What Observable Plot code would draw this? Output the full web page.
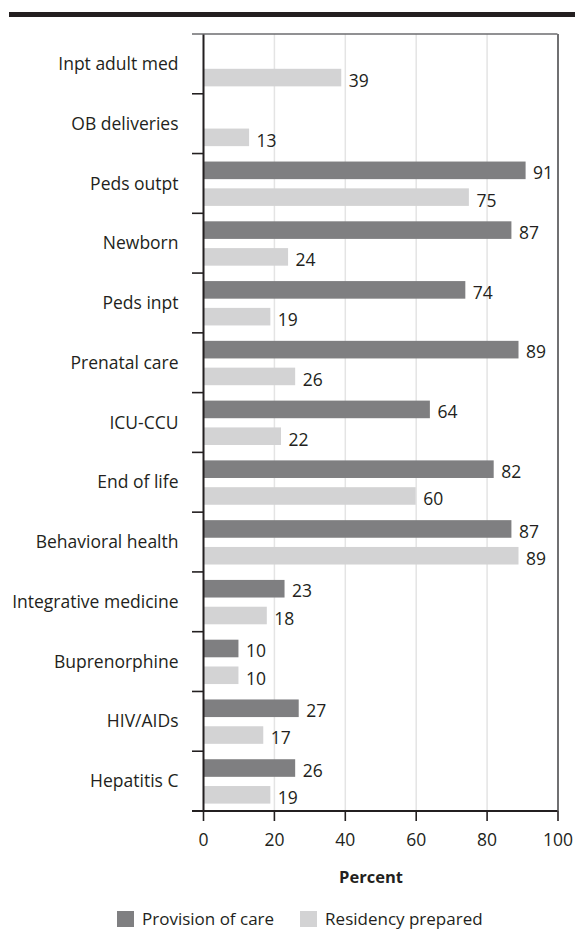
<!DOCTYPE html>
<html>
<head>
<meta charset="utf-8">
<script src="https://cdn.jsdelivr.net/npm/d3@7"></script>
<script src="https://cdn.jsdelivr.net/npm/@observablehq/plot@0.6"></script>
<style>
  html, body { margin: 0; padding: 0; background: #fff; }
  body { width: 575px; height: 932px; position: relative; overflow: hidden; font-family: "Open Sans", sans-serif; color: #231f20; }
  #topbar { position: absolute; top: 12px; left: 9px; width: 566px; height: 5px; background: #231f20; }
  #chart { position: absolute; top: 0; left: 0; }
  #xlabel { position: absolute; top: 865px; left: 371px; transform: translateX(-50%); font-weight: 700; font-size: 16.5px; }
  #legend { position: absolute; top: 907px; left: 117px; display: flex; align-items: center; font-size: 17px; white-space: nowrap; }
  #legend .sw { width: 17px; height: 16px; margin-right: 8px; }
  #legend .item { display: flex; align-items: center; margin-right: 26px; }
</style>
</head>
<body>
<div id="topbar"></div>
<div id="chart"></div>
<div id="xlabel">Percent</div>
<div id="legend"></div>
<script>
const categories = ["Inpt adult med", "OB deliveries", "Peds outpt", "Newborn", "Peds inpt", "Prenatal care", "ICU-CCU", "End of life", "Behavioral health", "Integrative medicine", "Buprenorphine", "HIV/AIDs", "Hepatitis C"];
const provisionOfCare = [null, null, 91, 87, 74, 89, 64, 82, 87, 23, 10, 27, 26];
const residencyPrepared = [39, 13, 75, 24, 19, 26, 22, 60, 89, 18, 10, 17, 19];
const seriesNames = ["Provision of care", "Residency prepared"];
const seriesColors = ["#7f7f81", "#d3d3d4"];
const xTicks = [0, 20, 40, 60, 80, 100];

const provData = categories.map((c, i) => ({category: c, value: provisionOfCare[i]})).filter(d => d.value != null);
const resData = categories.map((c, i) => ({category: c, value: residencyPrepared[i]})).filter(d => d.value != null);

const W = 575, H = 860;
const mTop = 34, mBottom = 49, mLeft = 203, mRight = 17.5;
const step = (H - mTop - mBottom) / categories.length;
const ink = "#231f20";

// band-boundary ticks on the left axis + top/bottom frame edges
function bandEdges(index, scales, values, dimensions) {
  const g = d3.create("svg:g");
  const y = scales.y;
  const bw = y.bandwidth();
  const edges = categories.map(c => y(c)).concat([y(categories[categories.length - 1]) + bw]);
  const x0 = dimensions.marginLeft, x1 = dimensions.width - dimensions.marginRight;
  g.append("line").attr("x1", x0 - 11).attr("x2", x1).attr("y1", edges[0]).attr("y2", edges[0])
    .attr("stroke", "#6d6d6f").attr("stroke-width", 1.6);
  edges.slice(1, -1).forEach(e => {
    g.append("line").attr("x1", x0 - 11).attr("x2", x0).attr("y1", e).attr("y2", e)
      .attr("stroke", ink).attr("stroke-width", 1.6);
  });
  const b = edges[edges.length - 1];
  g.append("line").attr("x1", x0 - 11).attr("x2", x1).attr("y1", b).attr("y2", b)
    .attr("stroke", ink).attr("stroke-width", 2);
  return g.node();
}

const chart = Plot.plot({
  width: W,
  height: H,
  marginTop: mTop,
  marginBottom: mBottom,
  marginLeft: mLeft,
  marginRight: mRight,
  style: {fontFamily: "'Open Sans', sans-serif", fontSize: "17.5px", color: ink, background: "transparent"},
  x: {domain: [0, 100]},
  y: {domain: categories, padding: 0, round: false},
  marks: [
    Plot.gridX(xTicks.slice(1, -1), {stroke: "#e4e4e4", strokeOpacity: 1, strokeWidth: 1.5}),
    Plot.barX(provData, {x: "value", y: "category", fill: seriesColors[0], insetTop: 8, insetBottom: step - 8 - 17.6}),
    Plot.barX(resData, {x: "value", y: "category", fill: seriesColors[1], insetTop: 34.8, insetBottom: 7.4}),
    Plot.text(provData, {x: "value", y: "category", text: d => String(d.value), textAnchor: "start", dx: 7, dy: -10.5, fill: ink, fontSize: 17.5}),
    Plot.text(resData, {x: "value", y: "category", text: d => String(d.value), textAnchor: "start", dx: 7, dy: 17, fill: ink, fontSize: 17.5}),
    Plot.ruleX([100], {stroke: "#4d4d4f", strokeWidth: 1.6}),
    Plot.ruleX([0], {stroke: ink, strokeWidth: 2}),
    bandEdges,
    Plot.axisY({tickSize: 0, tickPadding: 25, fontSize: 17.5, fill: ink, label: null}),
    Plot.axisX({ticks: xTicks, tickSize: 10, tickPadding: 12, fontSize: 17.5, fill: ink, stroke: ink, strokeWidth: 1.6, label: null})
  ]
});
document.getElementById("chart").appendChild(chart);

const legend = document.getElementById("legend");
seriesNames.forEach((name, i) => {
  const item = document.createElement("div");
  item.className = "item";
  const sw = document.createElement("span");
  sw.className = "sw";
  sw.style.background = seriesColors[i];
  const t = document.createElement("span");
  t.textContent = name;
  item.appendChild(sw);
  item.appendChild(t);
  legend.appendChild(item);
});
</script>
</body>
</html>
